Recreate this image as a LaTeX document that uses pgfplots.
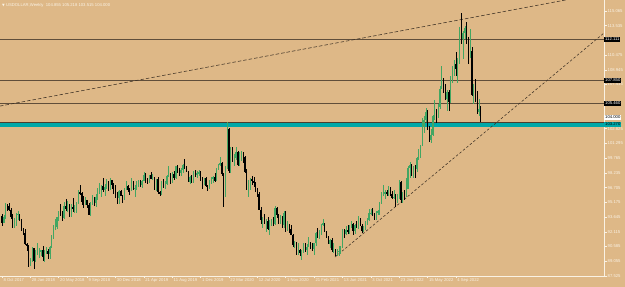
\documentclass[border=0pt]{standalone}
\usepackage{pgfplots}
\pgfplotsset{compat=1.18}
\usepackage{pgfplotstable}
\usepackage{fontspec}
\setmainfont{Liberation Sans}
\newfontfamily\dejavu{DejaVu Sans}
\definecolor{bg}{RGB}{222,184,135}
\definecolor{axc}{RGB}{250,242,228}
\definecolor{bull}{RGB}{66,166,98}
\definecolor{hl}{RGB}{96,78,58}
\definecolor{tealc}{RGB}{0,168,168}
\definecolor{trend}{RGB}{60,48,36}
\newcommand{\tf}{\fontsize{4.2}{5}\selectfont}

\pgfplotstableread{
w o h l c
0 93.80 93.95 92.75 93.06
1 93.06 93.88 92.98 93.69
2 93.69 95.15 93.45 94.90
3 94.90 95.00 94.25 94.80
4 94.80 95.08 94.30 94.40
5 94.40 94.60 93.45 93.65
6 93.65 93.95 92.55 92.80
7 92.80 93.55 92.50 92.90
8 92.90 94.10 92.70 93.90
9 93.90 94.30 93.30 93.95
10 93.95 93.98 93.20 93.30
11 93.30 93.40 92.20 92.30
12 92.30 92.55 91.75 91.95
13 91.95 92.45 90.75 90.80
14 90.80 90.95 90.10 90.60
15 90.60 90.70 88.45 89.10
16 89.10 89.40 88.60 89.20
17 89.20 90.55 89.00 90.40
18 90.40 90.45 88.25 89.10
19 89.10 90.25 88.95 89.90
20 89.90 90.90 89.70 89.95
21 89.95 90.45 89.40 90.10
22 90.10 90.25 89.55 90.20
23 90.20 90.60 89.10 89.50
24 89.50 90.20 88.95 90.10
25 90.10 90.55 89.80 90.15
26 90.15 90.30 89.25 89.80
27 89.80 90.65 89.25 90.50
28 90.50 91.75 90.40 91.55
29 91.55 92.80 91.40 92.55
30 92.55 93.40 92.30 92.60
31 92.60 93.65 92.40 93.60
32 93.60 94.30 93.20 94.25
33 94.25 95.00 93.80 94.15
34 94.15 94.30 93.20 93.55
35 93.55 95.25 93.40 94.80
36 94.80 95.55 94.30 94.50
37 94.50 95.30 94.20 94.60
38 94.60 95.00 93.70 94.00
39 94.00 95.00 93.70 94.70
40 94.70 95.65 94.20 94.45
41 94.45 94.95 94.10 94.70
42 94.70 95.25 94.10 95.15
43 95.15 96.45 95.05 96.20
44 96.20 96.95 95.90 96.10
45 96.10 96.30 94.95 95.20
46 95.20 95.80 94.55 95.10
47 95.10 95.75 94.95 95.40
48 95.40 95.45 94.60 94.90
49 94.90 95.10 93.85 93.90
50 93.90 95.20 93.80 95.10
51 95.10 95.95 94.90 95.60
52 95.60 95.70 94.80 95.10
53 95.10 96.00 94.70 95.75
54 95.75 96.70 95.40 96.40
55 96.40 97.20 96.00 96.50
56 96.50 97.00 95.70 96.90
57 96.90 97.70 96.30 96.45
58 96.45 97.10 95.80 96.80
59 96.80 97.55 96.60 97.20
60 97.20 97.40 96.40 96.60
61 96.60 97.70 96.50 97.45
62 97.45 97.50 96.55 96.95
63 96.95 97.20 96.00 96.20
64 96.20 96.95 95.60 96.05
65 96.05 96.20 94.95 95.60
66 95.60 96.45 95.05 96.40
67 96.40 96.50 95.80 95.85
68 95.85 95.95 95.15 95.55
69 95.55 96.65 95.45 96.60
70 96.60 97.35 96.50 96.90
71 96.90 97.00 96.20 96.50
72 96.50 96.70 95.90 96.45
73 96.45 97.70 96.40 97.30
74 97.30 97.40 96.50 96.60
75 96.60 96.95 95.70 96.65
76 96.65 97.35 96.45 97.30
77 97.30 97.50 96.80 97.40
78 97.40 97.45 96.75 96.95
79 96.95 97.50 96.70 97.40
80 97.40 98.35 97.35 98.00
81 98.00 98.20 97.20 97.50
82 97.50 97.75 97.05 97.30
83 97.30 98.05 97.15 98.00
84 98.00 98.35 97.55 97.60
85 97.60 98.10 97.45 97.75
86 97.75 97.80 96.45 96.55
87 96.55 97.60 96.40 97.55
88 97.55 97.85 96.05 96.20
89 96.20 96.40 95.85 96.10
90 96.10 97.40 95.95 97.30
91 97.30 97.60 96.65 96.80
92 96.80 97.35 96.60 97.10
93 97.10 98.00 97.00 97.90
94 97.90 98.95 97.80 98.10
95 98.10 98.20 97.05 97.50
96 97.50 98.30 97.20 98.15
97 98.15 98.45 97.50 97.70
98 97.70 99.00 97.55 98.90
99 98.90 99.10 98.25 98.40
100 98.40 98.75 97.95 98.25
101 98.25 98.70 97.90 98.55
102 98.55 99.20 98.20 99.10
103 99.10 99.65 98.60 98.80
104 98.80 99.00 98.30 98.35
105 98.35 98.45 97.25 97.30
106 97.30 97.90 97.10 97.85
107 97.85 98.05 97.15 97.20
108 97.20 98.45 97.15 98.35
109 98.35 98.50 97.85 98.00
110 98.00 98.45 97.75 98.25
111 98.25 98.55 97.90 98.30
112 98.30 98.40 97.40 97.70
113 97.70 97.80 96.60 97.15
114 97.15 97.75 96.95 97.70
115 97.70 97.80 96.80 96.90
116 96.90 97.00 96.35 96.80
117 96.80 97.50 96.60 97.40
118 97.40 97.80 97.10 97.60
119 97.60 97.95 97.20 97.85
120 97.85 98.20 97.30 97.40
121 97.40 98.70 97.35 98.65
122 98.65 99.15 98.50 99.10
123 99.10 99.90 99.00 99.30
124 99.30 99.35 97.90 98.10
125 98.10 98.20 94.65 95.90
126 95.90 98.90 95.70 98.80
127 98.80 103.50 98.60 102.80
128 102.80 102.85 98.20 98.40
129 98.40 100.90 98.20 100.60
130 100.60 100.95 99.40 99.50
131 99.50 100.20 98.90 99.80
132 99.80 100.90 99.60 100.40
133 100.40 100.55 98.90 99.05
134 99.05 100.40 98.95 99.75
135 99.75 100.55 99.50 100.40
136 100.40 100.45 99.30 99.90
137 99.90 100.00 98.20 98.35
138 98.35 98.60 96.45 96.90
139 96.90 97.45 95.70 97.30
140 97.30 97.75 96.50 97.60
141 97.60 97.95 96.95 97.40
142 97.40 97.80 96.80 97.20
143 97.20 97.25 96.20 96.60
144 96.60 96.70 95.70 96.00
145 96.00 96.20 94.35 94.40
146 94.40 94.70 92.95 93.30
147 93.30 93.65 92.50 93.40
148 93.40 93.95 92.95 93.10
149 93.10 93.45 92.10 93.20
150 93.20 93.60 92.35 92.40
151 92.40 93.30 91.75 92.80
152 92.80 93.45 92.70 93.30
153 93.30 93.65 92.70 92.95
154 92.95 94.75 92.80 94.60
155 94.60 94.65 93.55 93.85
156 93.85 94.00 92.95 93.10
157 93.10 93.90 92.90 93.70
158 93.70 93.80 92.50 92.80
159 92.80 94.30 92.55 94.05
160 94.05 94.30 92.10 92.25
161 92.25 93.20 92.15 92.80
162 92.80 92.90 92.00 92.40
163 92.40 92.80 91.75 91.80
164 91.80 91.90 90.50 90.70
165 90.70 91.20 90.40 91.00
166 91.00 91.05 89.75 90.00
167 90.00 90.95 89.75 90.20
168 90.20 90.30 89.55 89.95
169 89.95 90.25 89.20 90.10
170 90.10 90.95 89.90 90.80
171 90.80 90.90 90.00 90.20
172 90.20 90.80 89.70 90.55
173 90.55 91.60 90.50 91.05
174 91.05 91.10 90.30 90.50
175 90.50 91.00 90.10 90.35
176 90.35 91.00 89.70 90.90
177 90.90 92.05 90.65 91.95
178 91.95 92.50 91.45 91.70
179 91.70 92.35 91.35 91.90
180 91.90 92.95 91.80 92.80
181 92.80 93.45 92.70 93.00
182 93.00 93.05 92.10 92.15
183 92.15 92.20 91.50 91.60
184 91.60 91.70 90.80 90.85
185 90.85 91.40 90.40 91.30
186 91.30 91.45 90.05 90.20
187 90.20 90.95 89.90 90.30
188 90.30 90.35 89.65 90.00
189 90.00 90.30 89.55 90.05
190 90.05 90.60 89.65 90.15
191 90.15 90.60 89.80 90.55
192 90.55 92.40 90.40 92.25
193 92.25 92.40 91.50 91.85
194 91.85 92.75 91.75 92.25
195 92.25 92.85 91.90 92.15
196 92.15 92.85 91.90 92.70
197 92.70 93.20 92.50 92.90
198 92.90 93.00 91.80 92.15
199 92.15 92.90 91.90 92.80
200 92.80 93.20 92.50 92.55
201 92.55 93.75 92.45 93.50
202 93.50 93.55 92.75 92.70
203 92.70 92.90 91.95 92.15
204 92.15 92.70 92.05 92.60
205 92.60 93.20 92.35 93.20
206 93.20 93.50 92.80 93.30
207 93.30 94.50 93.20 94.05
208 94.05 94.45 93.90 94.10
209 94.10 94.55 93.75 93.95
210 93.95 94.05 93.30 93.60
211 93.60 94.30 93.30 94.10
212 94.10 94.35 93.85 94.30
213 94.30 95.25 93.90 95.10
214 95.10 96.20 95.00 96.05
215 96.05 96.95 95.80 96.10
216 96.10 96.45 95.50 96.20
217 96.20 96.45 95.85 96.10
218 96.10 96.90 95.85 96.65
219 96.65 96.75 95.85 96.05
220 96.05 96.40 95.55 95.65
221 95.65 96.45 95.55 95.75
222 95.75 96.00 94.65 95.20
223 95.20 96.00 95.10 95.65
224 95.65 97.45 95.55 97.30
225 97.30 97.35 95.15 95.45
226 95.45 96.25 95.15 96.05
227 96.05 96.45 95.40 96.00
228 96.00 97.75 95.75 96.60
229 96.60 98.90 96.55 98.70
230 98.70 99.40 97.70 99.10
231 99.10 99.15 97.90 98.20
232 98.20 99.00 97.75 98.80
233 98.80 99.10 97.70 98.60
234 98.60 99.85 98.30 99.80
235 99.80 100.75 99.60 100.50
236 100.50 101.15 99.80 101.10
237 101.10 103.95 101.05 103.00
238 103.00 104.10 102.35 103.70
239 103.70 105.00 103.50 104.55
240 104.55 104.75 102.65 103.05
241 103.05 103.10 101.45 101.70
242 101.70 102.75 101.30 102.15
243 102.15 104.25 102.05 104.15
244 104.15 105.80 103.70 104.65
245 104.65 104.90 103.40 104.15
246 104.15 105.35 103.95 105.10
247 105.10 107.25 104.90 107.00
248 107.00 109.30 106.90 108.05
249 108.05 108.10 106.50 106.70
250 106.70 107.45 105.85 105.90
251 105.90 106.90 104.65 106.60
252 106.60 106.90 104.65 105.65
253 105.65 108.30 105.50 108.15
254 108.15 109.30 107.60 108.80
255 108.80 110.00 108.35 109.60
256 109.60 110.80 108.35 109.00
257 109.00 110.20 107.60 109.75
258 109.75 113.35 109.55 113.15
259 113.15 114.80 111.60 112.10
260 112.10 112.95 110.05 112.80
261 112.80 113.50 112.10 113.30
262 113.30 113.90 111.60 111.95
263 111.95 112.35 109.50 110.70
264 110.70 113.15 110.20 110.85
265 110.85 111.30 106.25 106.30
266 106.30 107.45 105.35 106.95
267 106.95 107.95 105.65 106.05
268 106.05 106.70 104.40 104.55
269 104.55 105.90 104.10 104.85
270 104.85 105.22 103.52 104.00
}\dxy

\begin{document}
\begin{tikzpicture}
\fill[bg] (0,0) rectangle (625pt,287pt);
\path[use as bounding box] (0,0) rectangle (625pt,287pt);
\begin{axis}[
  at={(0pt,11pt)}, anchor=south west,
  scale only axis, width=604pt, height=276pt,
  xmin=-1.13, xmax=339.5, ymin=87.52, ymax=116.2,
  axis x line=bottom, axis y line=right,
  axis line style={-, draw=axc, line width=0.6pt},
  tick align=outside, major tick length=2.5pt,
  tick style={draw=axc, line width=0.5pt},
  minor tick num=0,
  clip mode=individual,
  xtick={0,16,...,256},
  xticklabels={8 Oct 2017,28 Jan 2018,20 May 2018,9 Sep 2018,30 Dec 2018,21 Apr 2019,11 Aug 2019,1 Dec 2019,22 Mar 2020,12 Jul 2020,1 Nov 2020,21 Feb 2021,13 Jun 2021,3 Oct 2021,23 Jan 2022,15 May 2022,4 Sep 2022},
  xticklabel style={anchor=north west, font=\tf, text=axc, inner sep=0.5pt, xshift=0.8pt, yshift=0.5pt},
  ytick={87.525,89.055,90.585,92.115,93.645,95.175,96.705,98.235,99.765,101.295,102.825,107.415,108.945,110.475,113.535,115.065},
  yticklabels={87.525,89.055,90.585,92.115,93.645,95.175,96.705,98.235,99.765,101.295,102.825,107.415,108.945,110.475,113.535,115.065},
  yticklabel style={anchor=west, font=\tf, text=axc, inner sep=0.5pt, xshift=0.5pt},
  candle/.style={draw=none, mark=none, restrict y to domain=0:500,
    error bars/.cd, y dir=both, y explicit, error mark=none},
]
% horizontal levels
\addplot[hl, line width=0.7pt] coordinates {(-2,112.111) (340,112.111)};
\addplot[hl, line width=0.7pt] coordinates {(-2,107.85) (340,107.85)};
\addplot[hl, line width=0.7pt] coordinates {(-2,105.46) (340,105.46)};
\addplot[tealc, line width=4.2pt] coordinates {(-2,103.27) (340,103.27)};
\addplot[hl!80!black, line width=0.6pt] coordinates {(-2,103.50) (340,103.50)};
% trend lines
\addplot[trend, line width=0.55pt, dash pattern=on 3.5pt off 2pt] coordinates {(-1.13,105.18) (337.2,116.87)};
\addplot[trend, line width=0.55pt, dash pattern=on 2.5pt off 2pt] coordinates {(187.8,89.49) (339.5,112.77)};
% candles: wicks
\addplot[candle, error bar style={draw=bull, line width=0.55pt, solid}]
  table[x=w, y expr={\thisrow{c}>\thisrow{o} ? (\thisrow{h}+\thisrow{l})/2 : 1000},
        y error expr={(\thisrow{h}-\thisrow{l})/2}] {\dxy};
\addplot[candle, error bar style={draw=black, line width=0.55pt, solid}]
  table[x=w, y expr={\thisrow{c}>\thisrow{o} ? 1000 : (\thisrow{h}+\thisrow{l})/2},
        y error expr={(\thisrow{h}-\thisrow{l})/2}] {\dxy};
% candles: bodies
\addplot[candle, error bar style={draw=bull, line width=1.25pt, solid}]
  table[x=w, y expr={\thisrow{c}>\thisrow{o} ? (\thisrow{o}+\thisrow{c})/2 : 1000},
        y error expr={max(abs(\thisrow{c}-\thisrow{o})/2,0.04)}] {\dxy};
\addplot[candle, error bar style={draw=black, line width=1.25pt, solid}]
  table[x=w, y expr={\thisrow{c}>\thisrow{o} ? 1000 : (\thisrow{o}+\thisrow{c})/2},
        y error expr={max(abs(\thisrow{c}-\thisrow{o})/2,0.04)}] {\dxy};
% price tags
\node[fill=black, text=white, font=\tf, inner xsep=1pt, inner ysep=0.7pt, anchor=west] at (axis cs:339.5,112.111) {112.111};
\node[fill=black, text=white, font=\tf, inner xsep=1pt, inner ysep=0.7pt, anchor=west] at (axis cs:339.5,107.85) {107.850};
\node[fill=black, text=white, font=\tf, inner xsep=1pt, inner ysep=0.7pt, anchor=west] at (axis cs:339.5,105.46) {105.460};
\node[fill=white, text=black, font=\tf, inner xsep=1pt, inner ysep=0.7pt, anchor=west] at (axis cs:339.5,104.00) {104.000};
\node[fill=tealc, text=black, font=\tf, inner xsep=1pt, inner ysep=0.7pt, anchor=west] at (axis cs:339.5,103.27) {103.270};
\end{axis}
\node[anchor=west, text=axc, font=\tf, inner sep=0pt] at (2pt,281.5pt) {{\dejavu\fontsize{3.5}{4}\selectfont ▼}\ USDOLLAR,Weekly\ \ 104.855 105.218 103.515 104.000};
\end{tikzpicture}
\end{document}
